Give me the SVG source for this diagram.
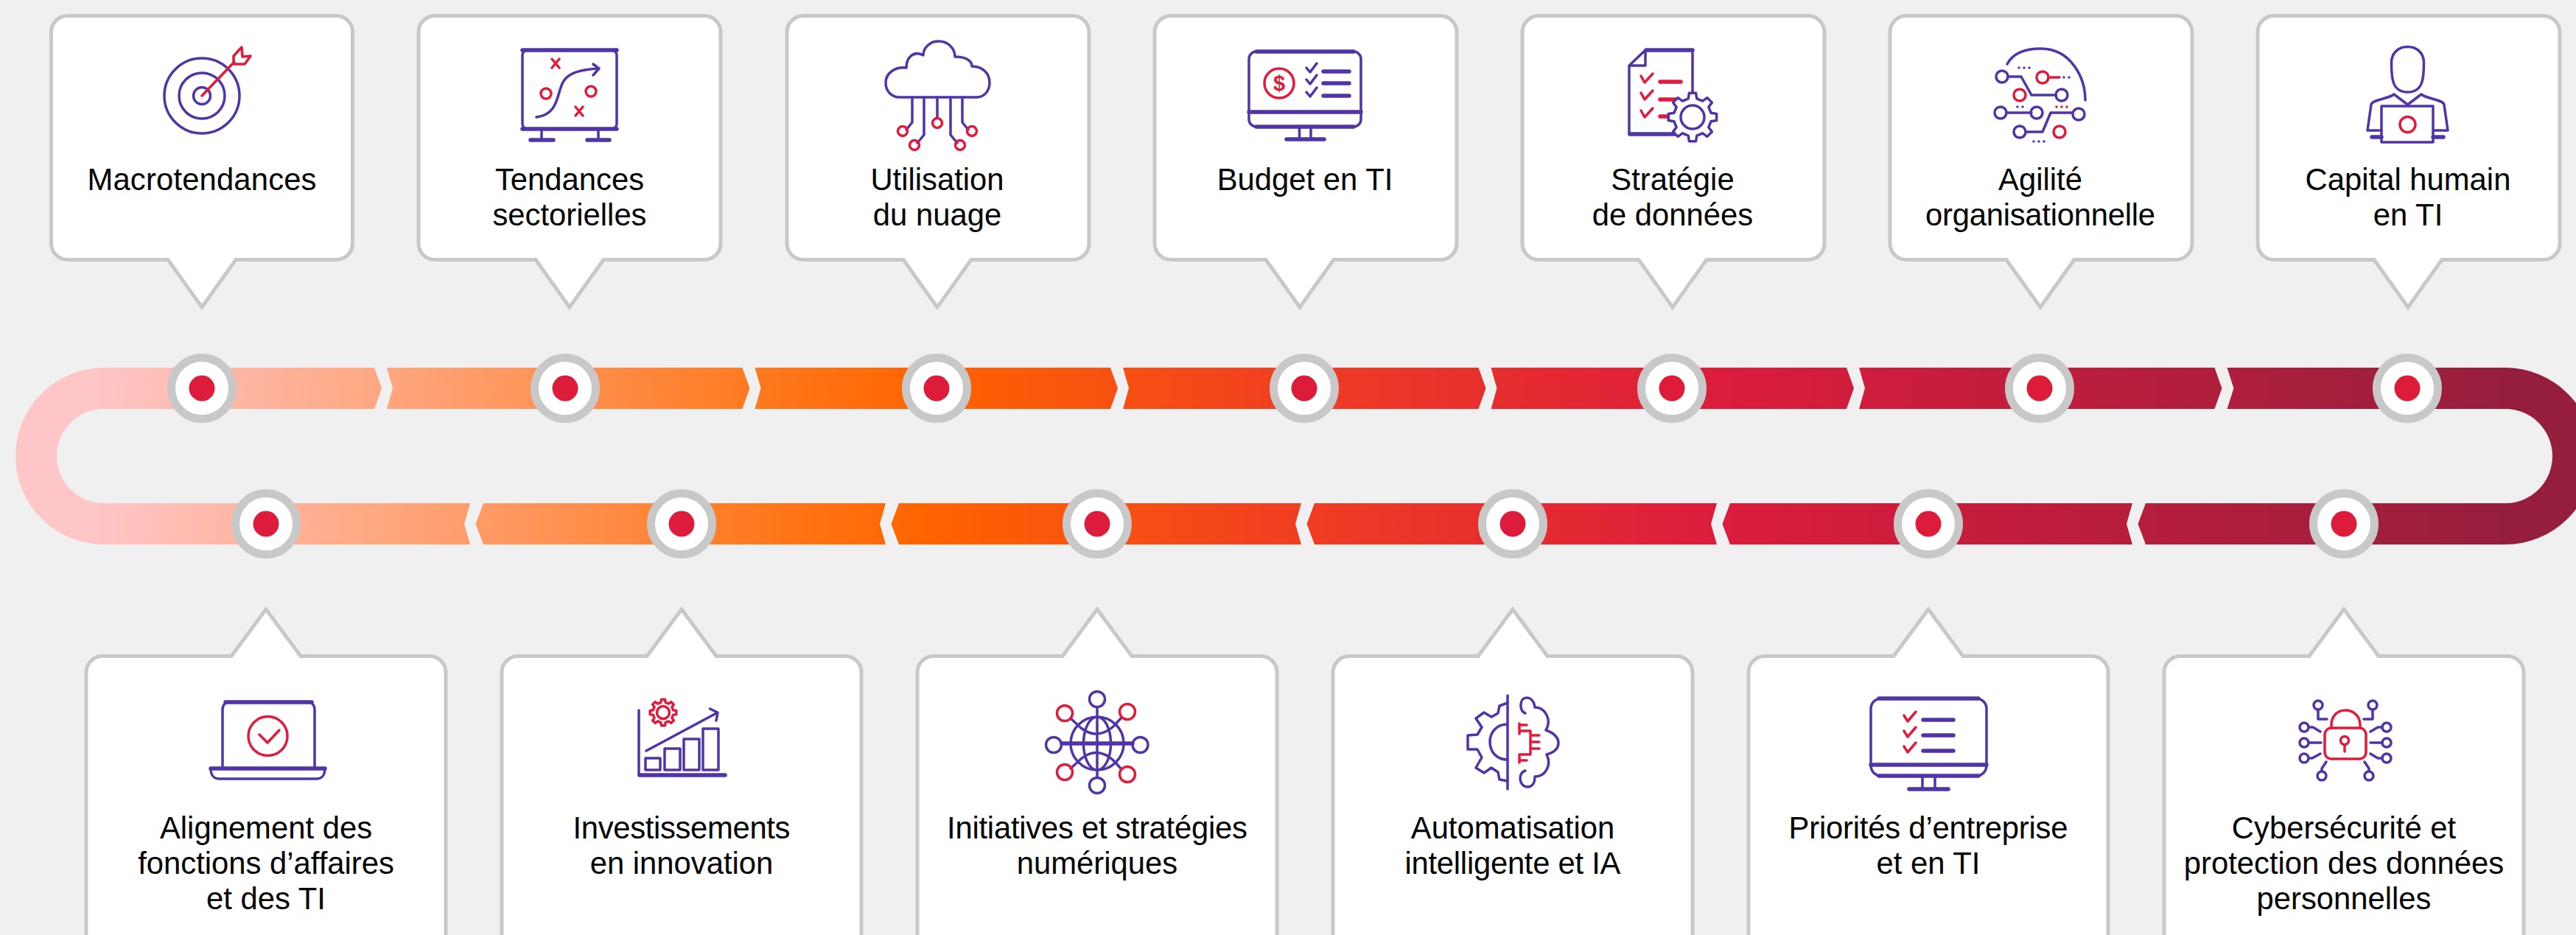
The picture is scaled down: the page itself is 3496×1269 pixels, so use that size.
<svg xmlns="http://www.w3.org/2000/svg" width="3496" height="1269" viewBox="0 0 3496 1269">
<style>
.box{fill:#fff;stroke:#c8c8c8;stroke-width:5;stroke-linejoin:miter}
.t{font-family:"Liberation Sans",Arial,sans-serif;font-size:41.8px;fill:#000;text-anchor:middle}
.p,.r{fill:none;stroke-width:3.5;stroke-linecap:round;stroke-linejoin:round}
.p{stroke:#5035a8}.r{stroke:#e01b3c}
.b{stroke-width:5.5}
.dots{stroke-dasharray:0 7;stroke-width:3.5}
.seg{fill:url(#band)}
.ring{fill:#fff;stroke:#c8c8c8;stroke-width:11}
.dot{fill:#dc1c3a}
</style>
<defs>
<linearGradient id="band" gradientUnits="userSpaceOnUse" x1="21" y1="0" x2="3520" y2="0">
<stop offset="0.03" stop-color="#ffc6c8"/>
<stop offset="0.145" stop-color="#ffa67e"/>
<stop offset="0.285" stop-color="#ff7a20"/>
<stop offset="0.35" stop-color="#ff6500"/>
<stop offset="0.50" stop-color="#f03d22"/>
<stop offset="0.66" stop-color="#dc1c3c"/>
<stop offset="0.85" stop-color="#b01e3c"/>
<stop offset="0.97" stop-color="#951e3d"/>
</linearGradient>
<path id="gear" vector-effect="non-scaling-stroke" d="M76 -17.5L99 -13.9L99 13.9L76 17.5L66.1 41.3L79.9 60.2L60.2 79.9L41.3 66.1L17.5 76L13.9 99L-13.9 99L-17.5 76L-41.3 66.1L-60.2 79.9L-79.9 60.2L-66.1 41.3L-76 17.5L-99 13.9L-99 -13.9L-76 -17.5L-66.1 -41.3L-79.9 -60.2L-60.2 -79.9L-41.3 -66.1L-17.5 -76L-13.9 -99L13.9 -99L17.5 -76L41.3 -66.1L60.2 -79.9L79.9 -60.2L66.1 -41.3Z"/>
</defs>
<rect width="3496" height="1269" fill="#f0f0f0"/>

<g id="connectors">
<path class="seg" d="M508 499L518 527L508 555H141A64 64 0 0 0 141 683H638L630 711L638 739H141A120 120 0 0 1 141 499Z"/>
<path class="seg" d="M525 499H1007.5L1017.5 527L1007.5 555H525L533 527Z"/>
<path class="seg" d="M1024.5 499H1507L1517 527L1507 555H1024.5L1032.5 527Z"/>
<path class="seg" d="M1524 499H2006.5L2016.5 527L2006.5 555H1524L1532 527Z"/>
<path class="seg" d="M2023.5 499H2506L2516 527L2506 555H2023.5L2031.5 527Z"/>
<path class="seg" d="M2523 499H3005.5L3015.5 527L3005.5 555H2523L2531 527Z"/>
<path class="seg" d="M3022.5 499H3400A120 120 0 0 1 3400 739H2912L2901.5 711L2912 683H3400A64 64 0 0 0 3400 555H3022.5L3031.5 527Z"/>
<path class="seg" d="M656 683H1202L1194 711L1202 739H656L645.5 711Z"/>
<path class="seg" d="M1220 683H1766L1758 711L1766 739H1220L1209.5 711Z"/>
<path class="seg" d="M1784 683H2330L2322 711L2330 739H1784L1773.5 711Z"/>
<path class="seg" d="M2348 683H2894L2886 711L2894 739H2348L2337.5 711Z"/>
</g>

<g id="markers">
<g id="m1"><circle class="ring" cx="274" cy="527" r="41.5"/><circle class="dot" cx="274" cy="527" r="17.5"/></g>
<g id="m2"><circle class="ring" cx="767" cy="527" r="41.5"/><circle class="dot" cx="767" cy="527" r="17.5"/></g>
<g id="m3"><circle class="ring" cx="1271" cy="527" r="41.5"/><circle class="dot" cx="1271" cy="527" r="17.5"/></g>
<g id="m4"><circle class="ring" cx="1770" cy="527" r="41.5"/><circle class="dot" cx="1770" cy="527" r="17.5"/></g>
<g id="m5"><circle class="ring" cx="2269" cy="527" r="41.5"/><circle class="dot" cx="2269" cy="527" r="17.5"/></g>
<g id="m6"><circle class="ring" cx="2768" cy="527" r="41.5"/><circle class="dot" cx="2768" cy="527" r="17.5"/></g>
<g id="m7"><circle class="ring" cx="3267" cy="527" r="41.5"/><circle class="dot" cx="3267" cy="527" r="17.5"/></g>
<g id="m8"><circle class="ring" cx="361" cy="711" r="41.5"/><circle class="dot" cx="361" cy="711" r="17.5"/></g>
<g id="m9"><circle class="ring" cx="925" cy="711" r="41.5"/><circle class="dot" cx="925" cy="711" r="17.5"/></g>
<g id="m10"><circle class="ring" cx="1489" cy="711" r="41.5"/><circle class="dot" cx="1489" cy="711" r="17.5"/></g>
<g id="m11"><circle class="ring" cx="2053" cy="711" r="41.5"/><circle class="dot" cx="2053" cy="711" r="17.5"/></g>
<g id="m12"><circle class="ring" cx="2617" cy="711" r="41.5"/><circle class="dot" cx="2617" cy="711" r="17.5"/></g>
<g id="m13"><circle class="ring" cx="3181" cy="711" r="41.5"/><circle class="dot" cx="3181" cy="711" r="17.5"/></g>
</g>

<g id="node-macrotendances">
<path class="box" d="M91.500 21.500H456.500A22 22 0 0 1 478.500 43.500V330.500A22 22 0 0 1 456.500 352.500H320L274 417L228 352.500H91.500A22 22 0 0 1 69.500 330.500V43.500A22 22 0 0 1 91.500 21.500Z"/>
<circle class="p" cx="274" cy="130" r="51"/><circle class="p" cx="274" cy="130" r="31"/><circle class="p" cx="274" cy="130" r="11.500"/>
<path class="r" d="M274 130L318 84M328 64L317 76V87H332L340 76L329 77Z"/>
<text class="t" x="274" y="258" textLength="311">Macrotendances</text>
</g>

<g id="node-tendances">
<path class="box" d="M590 21.500H956A22 22 0 0 1 978 43.500V330.500A22 22 0 0 1 956 352.500H819L773 417L727 352.500H590A22 22 0 0 1 568 330.500V43.500A22 22 0 0 1 590 21.500Z"/>
<rect class="p" x="709" y="68" width="128" height="107" rx="7"/>
<path class="p b" d="M709 68H837M709 175H837"/>
<path class="p" d="M735 175V190M812 175V190"/>
<path class="p b" d="M720 190H751M797 190H827"/>
<path class="p" d="M728 159C760 155 755 125 765 110C772 98 790 94 813 93M805 87L813 93L805 102"/>
<path class="r" d="M749 80L759 92M759 80L749 92M781 145L791 157M791 145L781 157"/>
<circle class="r" cx="741" cy="127" r="7"/><circle class="r" cx="802" cy="124" r="7"/>
<text class="t" x="773" y="258">Tendances</text><text class="t" x="773" y="306">sectorielles</text>
</g>

<g id="node-nuage">
<path class="box" d="M1090 21.500H1456A22 22 0 0 1 1478 43.500V330.500A22 22 0 0 1 1456 352.500H1318L1272 417L1226 352.500H1090A22 22 0 0 1 1068 330.500V43.500A22 22 0 0 1 1090 21.500Z"/>
<path class="p" d="M1221 132H1325C1337 132 1343 122 1343 112C1343 100 1334 90 1319 90C1319 82 1310 77 1296 77C1296 65 1286 56 1274 56C1262 56 1253 65 1253 75C1240 68 1230 78 1230 92C1214 90 1202 100 1202 112C1202 124 1210 132 1221 132Z"/>
<path class="p" d="M1238 132V166L1230 176M1254 132V183L1245 194M1272 132V160M1290 132V183L1299 194M1306 132V166L1314 176"/>
<circle class="r" cx="1225" cy="178" r="6.500"/><circle class="r" cx="1241" cy="197" r="6.500"/><circle class="r" cx="1272" cy="167" r="6.500"/><circle class="r" cx="1303" cy="197" r="6.500"/><circle class="r" cx="1319" cy="178" r="6.500"/>
<text class="t" x="1272" y="258">Utilisation</text><text class="t" x="1272" y="306">du nuage</text>
</g>

<g id="node-budget">
<path class="box" d="M1589 21.500H1955A22 22 0 0 1 1977 43.500V330.500A22 22 0 0 1 1955 352.500H1810L1764 417L1718 352.500H1589A22 22 0 0 1 1567 330.500V43.500A22 22 0 0 1 1589 21.500Z"/>
<rect class="p" x="1695" y="70" width="152" height="102" rx="10"/>
<path class="p b" d="M1695 152H1847M1705 70H1837M1705 172H1837M1746 189H1797"/>
<path class="p" d="M1763.500 172V189M1779 172V189"/>
<circle class="r" cx="1736" cy="113" r="20" stroke-width="4"/>
<text x="1736" y="123" font-family="Liberation Sans,Arial,sans-serif" font-size="29" font-weight="700" fill="#e01b3c" text-anchor="middle">$</text>
<path class="p" d="M1773 92L1778 98L1787 86M1773 108L1778 114L1787 102M1773 125L1778 131L1787 119"/>
<path class="p b" d="M1796 97H1831M1796 113H1831M1796 130H1831"/>
<text class="t" x="1771" y="258">Budget en TI</text>
</g>

<g id="node-donnees">
<path class="box" d="M2088 21.500H2454A22 22 0 0 1 2476 43.500V330.500A22 22 0 0 1 2454 352.500H2316L2270 417L2224 352.500H2088A22 22 0 0 1 2066 330.500V43.500A22 22 0 0 1 2088 21.500Z"/>
<path class="p" d="M2297 127V68H2233L2211 89V182H2278M2233 68V89H2211"/>
<path class="p b" d="M2234 68H2297M2212 182H2278"/>
<path class="r" d="M2227 103L2232 112L2243 100M2227 126L2232 135L2243 123M2227 150L2232 159L2243 147"/>
<path class="r b" d="M2253 111H2281M2253 135H2278M2253 158H2270"/>
<use href="#gear" class="p" style="fill:#fff" transform="translate(2297 159) scale(.33)"/>
<circle class="p" cx="2297" cy="159" r="16"/>
<text class="t" x="2270" y="258">Stratégie</text><text class="t" x="2270" y="306">de données</text>
</g>

<g id="node-agilite">
<path class="box" d="M2587 21.500H2953A22 22 0 0 1 2975 43.500V330.500A22 22 0 0 1 2953 352.500H2815L2769 417L2723 352.500H2587A22 22 0 0 1 2565 330.500V43.500A22 22 0 0 1 2587 21.500Z"/>
<path class="p" d="M2724 87C2732 72 2750 66 2770 66C2810 66 2830 105 2830 136"/>
<path class="p" d="M2725 104H2743L2757 129L2763 129H2790M2723 153H2757M2749 179H2772L2783 153L2791 153H2813"/>
<g class="p"><circle cx="2717" cy="104" r="8"/><circle cx="2798" cy="129" r="8"/><circle cx="2715" cy="153" r="8"/><circle cx="2764" cy="153" r="8"/><circle cx="2821" cy="155" r="8"/><circle cx="2741" cy="179" r="8"/></g>
<g class="r"><circle cx="2772" cy="105" r="8"/><circle cx="2741" cy="129" r="8"/><circle cx="2795" cy="179" r="8"/><path d="M2780 105H2795"/></g>
<path class="p dots" d="M2740 92H2757M2801 105H2811M2738 145H2748M2760 192H2777"/>
<path class="r dots" d="M2791 145H2806"/>
<text class="t" x="2769" y="258">Agilité</text><text class="t" x="2769" y="306" textLength="312">organisationnelle</text>
</g>

<g id="node-capital">
<path class="box" d="M3086 21.500H3452A22 22 0 0 1 3474 43.500V330.500A22 22 0 0 1 3452 352.500H3314L3268 417L3222 352.500H3086A22 22 0 0 1 3064 330.500V43.500A22 22 0 0 1 3086 21.500Z"/>
<path class="p" d="M3245.500 85C3245.500 72 3255 63.500 3267.500 63.500C3280 63.500 3289.500 72 3289.500 85C3289.500 105 3289 125 3267.500 125C3246 125 3245.500 105 3245.500 85Z"/>
<path class="p" d="M3232 177H3213L3218 142C3219 135 3240 135 3249 128L3267.500 142L3286 128C3295 135 3316 135 3317 142L3322 177H3303"/>
<rect class="p" x="3232" y="144" width="70" height="49"/>
<path class="p b" d="M3219 186H3232M3302 186H3316"/>
<circle class="r" cx="3267.500" cy="169" r="10.500"/>
<text class="t" x="3268" y="258">Capital humain</text><text class="t" x="3268" y="306">en TI</text>
</g>

<g id="node-alignement">
<path class="box" d="M139 890.500H314L361 827L408 890.500H583A22 22 0 0 1 605 912.500V1300H117V912.500A22 22 0 0 1 139 890.500Z"/>
<path class="p" d="M302 1042V963C302 957 306 953 312 953H417C423 953 427 957 427 963V1042"/>
<path class="p b" d="M306 953H423"/>
<path class="p" d="M286 1043H441C441 1050 438 1057 430 1057H297C289 1057 286 1050 286 1043Z"/>
<path class="p b" d="M286 1043H441"/>
<circle class="r" cx="363.500" cy="999" r="26.500"/>
<path class="r" d="M352 997L363 1008L379 991"/>
<text class="t" x="361" y="1138">Alignement des</text><text class="t" x="361" y="1186">fonctions d’affaires</text><text class="t" x="361" y="1234">et des TI</text>
</g>

<g id="node-investissements">
<path class="box" d="M703 890.500H878L925 827L972 890.500H1147A22 22 0 0 1 1169 912.500V1300H681V912.500A22 22 0 0 1 703 890.500Z"/>
<path class="p" d="M867 964V1052H984"/>
<path class="p b" d="M868 1052H984"/>
<rect class="p" x="876" y="1029" width="20" height="16"/><rect class="p" x="902" y="1016" width="21" height="29"/><rect class="p" x="928" y="1003" width="21" height="42"/><rect class="p" x="954" y="989" width="21" height="56"/>
<path class="p" d="M877 1019L974 967M963.500 962L974 967L972 978"/>
<use href="#gear" class="r" transform="translate(900 967) scale(.18)"/>
<circle class="r" cx="900" cy="967" r="8.500"/>
<text class="t" x="925" y="1138" textLength="295">Investissements</text><text class="t" x="925" y="1186">en innovation</text>
</g>

<g id="node-initiatives">
<path class="box" d="M1267 890.500H1442L1489 827L1536 890.500H1711A22 22 0 0 1 1733 912.500V1300H1245V912.500A22 22 0 0 1 1267 890.500Z"/>
<circle class="p" cx="1489" cy="1009" r="36"/>
<ellipse class="p" cx="1489" cy="1009" rx="18.500" ry="36"/>
<path class="p" d="M1489 960V1055M1453 975L1467 988Q1489 1005 1511 986L1522 974M1453 1043L1467 1030Q1489 1012 1511 1032L1522 1044"/>
<path class="p b" d="M1441 1009H1537"/>
<g class="p"><circle cx="1489" cy="949" r="10.500"/><circle cx="1489" cy="1066" r="10.500"/><circle cx="1430" cy="1011" r="10.500"/><circle cx="1547.500" cy="1011" r="10.500"/></g>
<g class="r"><circle cx="1445" cy="968" r="10.500"/><circle cx="1530" cy="966" r="10.500"/><circle cx="1445" cy="1048" r="10.500"/><circle cx="1530" cy="1051" r="10.500"/></g>
<text class="t" x="1489" y="1138" textLength="408">Initiatives et stratégies</text><text class="t" x="1489" y="1186">numériques</text>
</g>

<g id="node-automatisation">
<path class="box" d="M1831 890.500H2006L2053 827L2100 890.500H2275A22 22 0 0 1 2297 912.500V1300H1809V912.500A22 22 0 0 1 1831 890.500Z"/>
<path class="p" d="M2046 944V1071M2046 983C2030 983 2022 995 2022 1007C2022 1019 2030 1031 2046 1031"/>
<path class="p" d="M2046 954L2035 958L2033 968L2024 973L2014 967L2003 975L2011 987L2005 997L1992 998V1017L2005 1017L2011 1028L2003 1042L2014 1049L2024 1042L2033 1048L2035 1058L2046 1060"/>
<path class="p" d="M2070 968C2062 966 2061 947 2072 947C2082 947 2083 960 2083 960C2098 960 2106 978 2098 991C2110 995 2115 1002 2115 1008C2115 1015 2110 1021 2099 1024C2106 1038 2098 1054 2083 1054C2083 1062 2080 1068 2073 1068C2062 1068 2059 1050 2070 1046"/>
<path class="r" d="M2062 982V996M2062 984H2072M2062 992H2077V1024H2062M2062 1032H2072M2062 1024V1035M2077 998H2089M2077 1007H2089M2077 1016H2089"/>
<text class="t" x="2053" y="1138">Automatisation</text><text class="t" x="2053" y="1186" textLength="293">intelligente et IA</text>
</g>

<g id="node-priorites">
<path class="box" d="M2395 890.500H2570L2617 827L2664 890.500H2839A22 22 0 0 1 2861 912.500V1300H2373V912.500A22 22 0 0 1 2395 890.500Z"/>
<rect class="p" x="2539" y="948" width="157" height="105" rx="14"/>
<path class="p b" d="M2539 1038H2696M2550 948H2685M2550 1053H2685M2591 1071H2644"/>
<path class="p" d="M2609 1053V1071M2626 1053V1071"/>
<path class="r" d="M2584 971L2589 979L2600 966M2584 992L2589 1000L2600 987M2584 1013L2589 1021L2600 1008"/>
<path class="p b" d="M2610 977H2651M2610 998H2651M2610 1019H2651"/>
<text class="t" x="2617" y="1138" textLength="379">Priorités d’entreprise</text><text class="t" x="2617" y="1186">et en TI</text>
</g>

<g id="node-cybersecurite">
<path class="box" d="M2959 890.500H3134L3181 827L3228 890.500H3403A22 22 0 0 1 3425 912.500V1300H2937V912.500A22 22 0 0 1 2959 890.500Z"/>
<rect class="r" x="3155" y="988" width="56" height="42" rx="9"/>
<path class="r" d="M3164 988V984C3164 972 3172 964 3183 964C3194 964 3203 972 3203 984V988M3182 1011V1020"/>
<circle class="r" cx="3182" cy="1005" r="5.500"/>
<g class="p"><circle cx="3146" cy="957" r="6"/><circle cx="3220" cy="957" r="6"/><circle cx="3127" cy="987" r="6"/><circle cx="3239" cy="987" r="6"/><circle cx="3127" cy="1008" r="6"/><circle cx="3239" cy="1008" r="6"/><circle cx="3127" cy="1029" r="6"/><circle cx="3239" cy="1029" r="6"/><circle cx="3151" cy="1053" r="6"/><circle cx="3215" cy="1053" r="6"/>
<path d="M3146 963V976H3158M3220 963V976H3208M3133 987H3139L3149 993M3233 987H3227L3217 993M3133 1008H3150M3233 1008H3217M3133 1029H3138L3149 1023M3233 1029H3227L3217 1023M3151 1047V1043L3157 1034M3215 1047V1043L3209 1034"/></g>
<text class="t" x="3181" y="1138">Cybersécurité et</text><text class="t" x="3181" y="1186">protection des données</text><text class="t" x="3181" y="1234">personnelles</text>
</g>
</svg>
